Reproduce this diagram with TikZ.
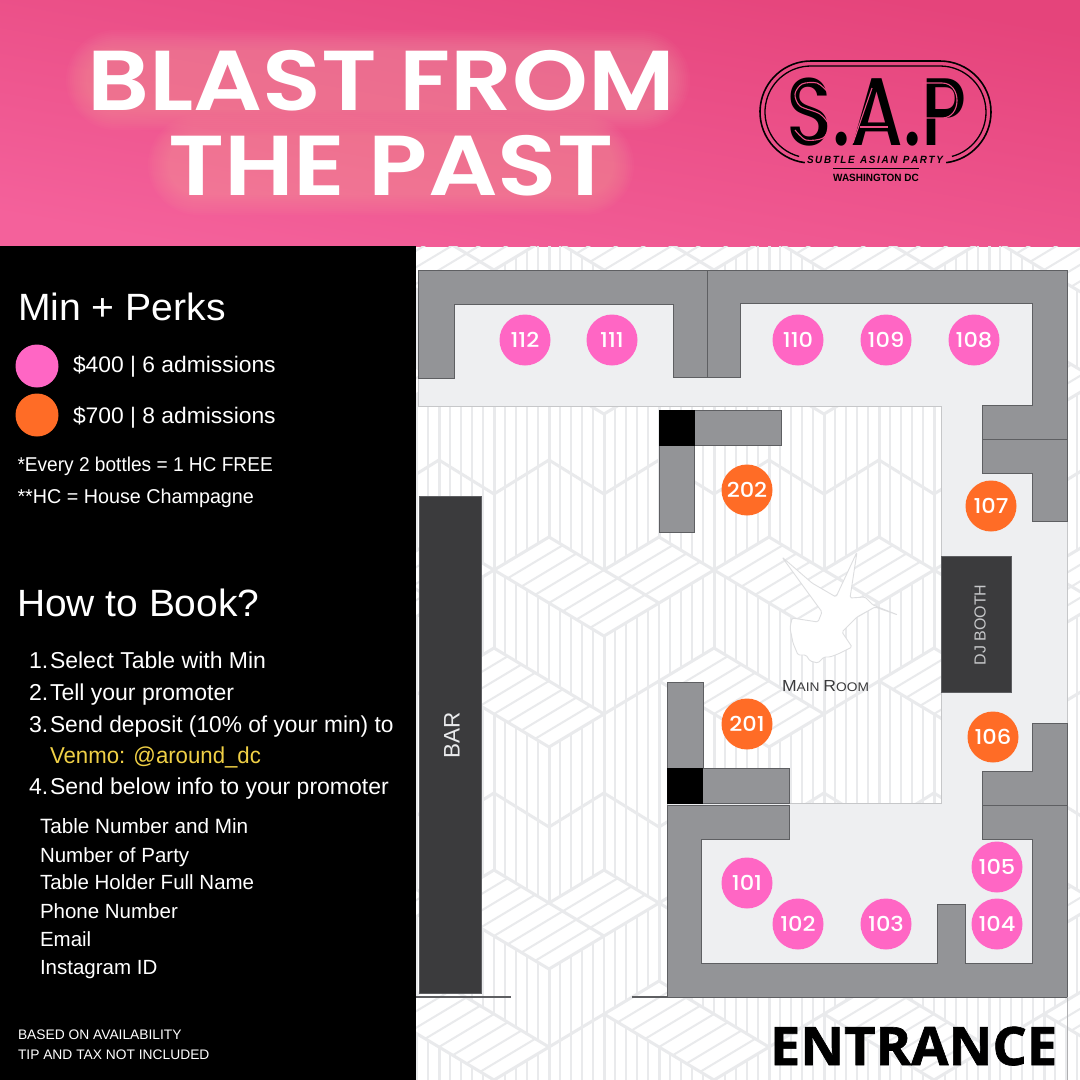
\documentclass[tikz,border=0pt]{standalone}
\usepackage{fontspec}
\setmainfont{Liberation Sans}
\newfontfamily\popsb{Poppins SemiBold}
\newfontfamily\popm{Poppins Medium}
\newfontfamily\opsans{Open Sans}
\newcommand{\fsz}[1]{\fontsize{#1}{#1}\selectfont}
\newcommand{\tn}[1]{\scalebox{1.1}[1]{#1}}
\definecolor{pinkT}{HTML}{FF66C4}
\definecolor{orangeT}{HTML}{FF6C26}
\definecolor{wallC}{HTML}{939497}
\definecolor{wallE}{HTML}{5E5F62}
\definecolor{darkC}{HTML}{3B3B3D}
\definecolor{floorC}{HTML}{EEEFF1}
\definecolor{hatchC}{HTML}{E9EAEC}
\definecolor{headA}{HTML}{E5447B}
\definecolor{headB}{HTML}{F4619B}
\definecolor{glowC}{HTML}{FFC2AE}
\definecolor{logoP}{HTML}{EC4F86}
\tikzset{
  lbl/.style={inner sep=0pt,outer sep=0pt,anchor=base west,text=white},
  hatchl/.style={draw=hatchC,line width=2pt},
  edgel/.style={draw=hatchC,line width=3pt,line join=round},
  wallp/.style={fill=wallC,draw=wallE,line width=0.9pt},
  blk/.style={fill=black,draw=black,line width=0.5pt},
  tbl/.style={circle,minimum size=51pt,inner sep=0pt,text=white,font=\popm\fsz{20.5}},
  pinkt/.style={tbl,fill=pinkT},
  oranget/.style={tbl,fill=orangeT},
  logol/.style={draw=black,line width=1.6pt},
  glowl/.style={draw=glowC,line cap=round},
  inl/.style={draw=logoP,line width=1.1pt}
}
\begin{document}
\begin{tikzpicture}[x=1pt,y=-1pt]
\useasboundingbox (0,0) rectangle (1080,1080);
\fill[white] (0,0) rectangle (1080,1080);
% header
\shade[top color=headA,bottom color=headB,shading angle=-10] (0,0) rectangle (1080,246);
\foreach \w in {100,96,...,60}{
  \draw[glowl,line width=\w pt,opacity=.03] (116,80) -- (640,80);
  \draw[glowl,line width=\w pt,opacity=.03] (198,165) -- (584,165);
}
\node[lbl,xscale=1.135] (t1) at (87,110) {\popsb\fsz{85}BLAST FROM};
\node[lbl,xscale=1.145] (t2) at (168,195) {\popsb\fsz{85}THE PAST};
% logo
\draw[logol] (811,112) ++(263:51pt) arc[start angle=263,end angle=90,radius=51pt] -- (940,61) arc[start angle=90,end angle=-83,radius=51pt];
\draw[logol,line width=1.3pt] (811,112) ++(255:46pt) arc[start angle=255,end angle=90,radius=46pt] -- (940,66) arc[start angle=90,end angle=-75,radius=46pt];
\node[lbl,text=black,anchor=base,xscale=.79] (lsap) at (876.5,145) {\popm\fsz{96}S.A.P};
\draw[inl,smooth] plot coordinates {(828,92) (817,83) (802,84) (795,94) (800,106) (820,114) (829,126) (823,138) (806,140) (795,130)};
\draw[inl,line join=miter] (872,88) -- (853,143);
\draw[inl] (860,127) -- (888,127);
\draw[inl] (923,143) -- (923,83) -- (942,83) .. controls (962,83) and (962,118) .. (942,118) -- (923,118);
\node[lbl,text=black,anchor=base,xscale=.94] (lsub) at (875,163) {\bfseries\itshape\fsz{10.5}S\,U\,B\,T\,L\,E\ \ A\,S\,I\,A\,N\ \ P\,A\,R\,T\,Y};
\draw[black,line width=1pt] (833,168) -- (919,168);
\node[lbl,text=black,anchor=base,xscale=.95] (lwdc) at (876,181) {\bfseries\fsz{10.5}WASHINGTON DC};
% left panel
\fill[black] (0,246) rectangle (416,1080);
\node[lbl,xscale=1.03] (a1) at (18,320) {\fsz{38}Min + Perks};
\node[pinkt,minimum size=43pt] (lg1) at (37,366) {};
\node[oranget,minimum size=43pt] (lg2) at (37,415) {};
\node[lbl,xscale=1.015] (a2) at (73,372) {\fsz{22.5}\$400 | 6 admissions};
\node[lbl,xscale=1.015] (a3) at (73,423) {\fsz{22.5}\$700 | 8 admissions};
\node[lbl,xscale=.955] (a4) at (17.5,471) {\fsz{20}*Every 2 bottles = 1 HC FREE};
\node[lbl,xscale=.987] (a5) at (17.5,503) {\fsz{20}**HC = House Champagne};
\node[lbl,xscale=1.025] (b1) at (17,616) {\fsz{38}How to Book?};
\node[lbl] (n1) at (29,668) {\fsz{23}1.};
\node[lbl] (s1) at (50,668) {\fsz{23}Select Table with Min};
\node[lbl] (n2) at (29,700) {\fsz{23}2.};
\node[lbl] (s2) at (50,700) {\fsz{23}Tell your promoter};
\node[lbl] (n3) at (29,732) {\fsz{23}3.};
\node[lbl,xscale=.988] (s3) at (50,732) {\fsz{23}Send deposit (10\% of your min) to};
\node[lbl,xscale=.965,text={rgb,255:red,240;green,208;blue,70}] (s3b) at (50,763) {\fsz{23}Venmo: @around\_dc};
\node[lbl] (n4) at (29,794) {\fsz{23}4.};
\node[lbl] (s4) at (50,794) {\fsz{23}Send below info to your promoter};
\node[lbl] (i1) at (40,833) {\fsz{20.7}Table Number and Min};
\node[lbl] (i2) at (40,862) {\fsz{20.5}Number of Party};
\node[lbl] (i3) at (40,889) {\fsz{20.5}Table Holder Full Name};
\node[lbl] (i4) at (40,918) {\fsz{20.5}Phone Number};
\node[lbl] (i5) at (40,946) {\fsz{20.5}Email};
\node[lbl] (i6) at (40,974) {\fsz{20.5}Instagram ID};
\node[lbl] (f1) at (18,1039) {\fsz{13.8}BASED ON AVAILABILITY};
\node[lbl] (f2) at (18,1059) {\fsz{13.8}TIP AND TAX NOT INCLUDED};
% floor pattern
\begin{scope}
\clip (416,246) rectangle (1080,1080);
\foreach \j in {-1,0,1}{
 \foreach \i in {-2,...,3}{
  \begin{scope}[shift={({494+220*\i-55*\j},{570+333*\j})}]
   % V-shaped hatched zone
   \draw[edgel] (0,0)--(55,-33)--(110,0)--(165,-33)--(220,0)--(110,66)--cycle;
   \draw[edgel] (110,0)--(165,33);
   \foreach \hh in {1,...,7}{
     \draw[hatchl] ({\hh*13.75},{\hh*8.25}) -- ({55+\hh*13.75},{\hh*8.25-33});
   }
   \foreach \hh in {1,2,3}{
     \draw[hatchl] ({110+\hh*13.75},{\hh*8.25}) -- ({165+\hh*13.75},{\hh*8.25-33});
   }
   % vertical band under it
   \draw[edgel] (0,0)--(0,78);
   \draw[edgel] (110,66)--(110,144);
   \foreach \k in {1,...,19}{
     \pgfmathsetmacro{\yt}{6.6*min(\k,20-\k)}
     \draw[hatchl] ({11*\k},\yt) -- ({11*\k},{\yt+78});
   }
   % long hatched zone
   \draw[edgel] (-55,111)--(0,78)--(110,144)--(55,177)--cycle;
   \draw[edgel] (110,144)--(165,111);
   \foreach \hh in {1,...,7}{
     \draw[hatchl] ({\hh*13.75-55},{111+\hh*8.25}) -- ({\hh*13.75},{78+\hh*8.25});
   }
   % two vertical bands
   \draw[edgel] (55,257)--(110,223)--(165,257)--(220,223)--(275,257);
   \foreach \k in {0,...,19}{
     \pgfmathsetmacro{\kk}{int(mod(\k,10))}
     \pgfmathsetmacro{\tr}{min(\kk,10-\kk)}
     \pgfmathsetmacro{\yt}{111+6.6*abs(\k-10)}
     \pgfmathsetmacro{\ym}{257-6.8*\tr}
     \pgfmathsetmacro{\yb}{333-6.6*\tr}
     \pgfmathsetmacro{\lw}{mod(\k,5)==0 ? 3 : 2}
     \draw[draw=hatchC,line width=\lw pt] ({55+11*\k},\yt) -- ({55+11*\k},\ym) -- ({55+11*\k},\yb);
   }
  \end{scope}
 }
}
\end{scope}
% floor of rooms
\path[fill=floorC,draw=hatchC!85!black,line width=0.7pt] (418,270)--(1067,270)--(1067,997)--(667,997)--(667,803)--(941,803)--(941,406)--(418,406)--cycle;
% walls
\path[wallp] (418,270)--(707,270)--(707,377)--(673,377)--(673,304)--(454,304)--(454,378)--(418,378)--cycle;
\path[wallp] (707,270)--(1067,270)--(1067,439)--(982,439)--(982,405)--(1032,405)--(1032,303)--(740,303)--(740,377)--(707,377)--cycle;
\path[wallp] (982,439)--(1067,439)--(1067,521)--(1032,521)--(1032,473)--(982,473)--cycle;
\path[wallp] (982,771)--(1032,771)--(1032,723)--(1067,723)--(1067,805)--(982,805)--cycle;
\path[wallp] (667,805)--(789,805)--(789,839)--(701,839)--(701,963)--(937,963)--(937,904)--(965,904)--(965,963)--(1032,963)--(1032,839)--(982,839)--(982,805)--(1067,805)--(1067,997)--(667,997)--cycle;
% inner walls
\path[wallp] (694,410) rectangle (781,445);
\path[wallp] (659,445) rectangle (694,532);
\path[blk] (659,410) rectangle (694,445);
\path[wallp] (667,682) rectangle (703,768);
\path[wallp] (702,768) rectangle (789,803);
\path[blk] (667,768) rectangle (702,803);
% bar, dj booth
\node[fill=darkC,draw=wallE,line width=0.6pt,minimum width=61.5pt,minimum height=497pt,inner sep=0pt] (bar) at (450.5,744.5) {};
\node[text=hatchC,rotate=90,inner sep=0pt] (bart) at (452,735) {\fsz{22.5}BAR};
\node[fill=darkC,draw=wallE,line width=0.6pt,minimum width=70pt,minimum height=136pt,inner sep=0pt] (dj) at (976,624) {};
\node[text=hatchC!85!black,rotate=90,inner sep=0pt] (djt) at (980,625) {\fsz{16}DJ BOOTH};
% entry lines
\draw[wallE,line width=1.2pt] (416,997) -- (511,997);
\draw[wallE,line width=1.2pt] (632,997) -- (667,997);
\draw[hatchC!75!black,line width=0.8pt] (1067,997) -- (1067,1080);
% bird
\path[fill=white,draw=hatchC!95!black,line width=0.9pt,line join=round,rounded corners=1.5pt] (782,557)--(822,612)--(818,622)--(792,618)--(790,628)--(793,643)--(798,655)--(806,655)--(810,661)--(818,663)--(824,657)--(830,657)--(838,654)--(846,650)--(852,647)--(842,632)--(857,617)--(875,607)--(898,615)--(873,605)--(865,597)--(850,598)--(857,552)--(836,597)--(812,583)--cycle;
\node[lbl,text=darkC,xscale=1.1] (mr) at (782,691) {\fsz{16}M\fsz{12.5}AIN \fsz{16}R\fsz{12.5}OOM};
% tables
\node[pinkt] (t112) at (525,340) {\tn{112}};
\node[pinkt] (t111) at (612,340) {\tn{111}};
\node[pinkt] (t110) at (798,340) {\tn{110}};
\node[pinkt] (t109) at (886,340) {\tn{109}};
\node[pinkt] (t108) at (974,340) {\tn{108}};
\node[oranget] (t107) at (991,506) {\tn{107}};
\node[oranget] (t106) at (993,737) {\tn{106}};
\node[pinkt] (t105) at (997,867) {\tn{105}};
\node[pinkt] (t104) at (997,924) {\tn{104}};
\node[pinkt] (t103) at (886,924) {\tn{103}};
\node[pinkt] (t102) at (798,924) {\tn{102}};
\node[pinkt] (t101) at (747,883) {\tn{101}};
\node[oranget] (t201) at (747,724) {\tn{201}};
\node[oranget] (t202) at (747,490) {\tn{202}};
\node[lbl,text=black,xscale=1.02] (ent) at (770,1065) {\opsans\bfseries\addfontfeature{FakeBold=1.2}\fsz{53}ENTRANCE};
\end{tikzpicture}
\end{document}
